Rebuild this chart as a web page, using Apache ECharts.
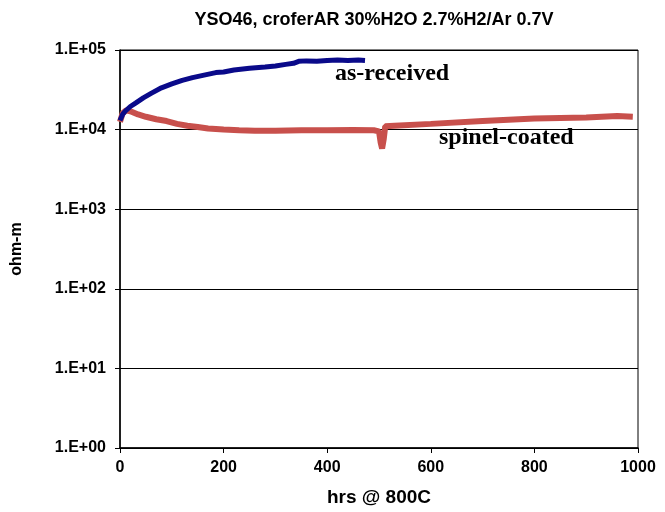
<!DOCTYPE html>
<html lang="en">
<head>
    <meta charset="UTF-8">
    <title>YSO46 crofer</title>
    <script src="https://cdn.jsdelivr.net/npm/echarts@6/dist/echarts.min.js"></script>
    <style>html,body{margin:0;padding:0;background:#fff;}</style>
</head>
<body>
    <div id="main" style="width:665px;height:512px;"></div>
    <script>
// as-received (blue)
var recvHrs = [0, 5, 10, 20, 30, 45, 60, 80, 100, 120, 140, 160, 185, 200, 220, 250, 280, 300, 320, 335, 345, 360, 380, 400, 420, 440, 460, 473];
var recvVal = [13000, 15500, 17000, 19500, 21500, 25000, 28500, 33500, 37500, 41500, 45000, 48000, 52000, 53000, 56000, 59000, 61000, 63000, 66000, 68000, 72000, 73000, 72000, 74000, 75000, 74000, 75000, 74000];
// spinel-coated (red)
var spinHrs = [0, 5, 12, 20, 35, 50, 70, 90, 110, 130, 150, 170, 200, 230, 260, 300, 350, 400, 450, 490, 500, 503, 506, 509, 512, 530, 600, 700, 800, 900, 960, 990];
var spinVal = [12500, 16000, 17500, 17000, 15500, 14500, 13500, 12800, 11800, 11200, 10800, 10300, 10000, 9800, 9700, 9700, 9800, 9800, 9900, 9800, 9500, 7000, 5800, 7500, 11000, 11200, 11800, 12800, 13800, 14200, 14800, 14500];
var yTicks = ['1.E+00', '1.E+01', '1.E+02', '1.E+03', '1.E+04', '1.E+05'];

function pairs(xs, ys) {
    var out = [];
    for (var i = 0; i < xs.length; i++) out.push([xs[i], ys[i]]);
    return out;
}

var sans = 'Liberation Sans, Arial';
var serifFont = '"Liberation Serif", "Times New Roman", serif';

var myChart = echarts.init(document.getElementById('main'));
myChart.setOption({
    animation: false,
    title: {
        text: 'YSO46, croferAR 30%H2O 2.7%H2/Ar 0.7V',
        left: 369, top: 6, textAlign: 'center',
        textStyle: {fontFamily: sans, fontSize: 18, fontWeight: 'bold', color: '#000'}
    },
    grid: {left: 120, right: 27, top: 50, bottom: 64, show: true, borderColor: '#000', borderWidth: 1},
    xAxis: {
        type: 'value', min: 0, max: 1000, interval: 200,
        name: 'hrs @ 800C', nameLocation: 'middle', nameGap: 40,
        nameTextStyle: {fontFamily: sans, fontSize: 19, fontWeight: 'bold', color: '#000'},
        axisLine: {lineStyle: {color: '#000', width: 1.5}},
        axisTick: {show: true, length: 5, lineStyle: {color: '#000'}},
        axisLabel: {
            fontFamily: sans, fontSize: 16, fontWeight: 'bold', color: '#000', margin: 12,
            formatter: function (v) { return String(v); }
        },
        splitLine: {show: false}
    },
    yAxis: {
        type: 'log', logBase: 10, min: 1, max: 100000,
        name: 'ohm-m', nameLocation: 'middle', nameGap: 95,
        nameTextStyle: {fontFamily: sans, fontSize: 16, fontWeight: 'bold', color: '#000'},
        axisLine: {show: true, lineStyle: {color: '#000', width: 1.5}},
        axisTick: {show: true, length: 5, lineStyle: {color: '#000'}},
        axisLabel: {
            fontFamily: sans, fontSize: 16, fontWeight: 'bold', color: '#000', margin: 14,
            formatter: function (v) { return yTicks[Math.round(Math.log10(v))]; }
        },
        splitLine: {show: true, lineStyle: {color: '#000', width: 1}}
    },
    series: [
        {
            name: 'as-received', type: 'line', data: pairs(recvHrs, recvVal),
            showSymbol: false, lineStyle: {color: '#0a0a8a', width: 5}, z: 3
        },
        {
            name: 'spinel-coated', type: 'line', data: pairs(spinHrs, spinVal),
            showSymbol: false, lineStyle: {color: '#c8504c', width: 6}, z: 2
        }
    ],
    graphic: [
        {type: 'text', left: 335, top: 62, style: {text: 'as-received', font: 'bold 24px ' + serifFont, fill: '#000'}},
        {type: 'text', left: 439, top: 126, style: {text: 'spinel-coated', font: 'bold 24px ' + serifFont, fill: '#000'}}
    ]
});
    </script>
</body>
</html>
